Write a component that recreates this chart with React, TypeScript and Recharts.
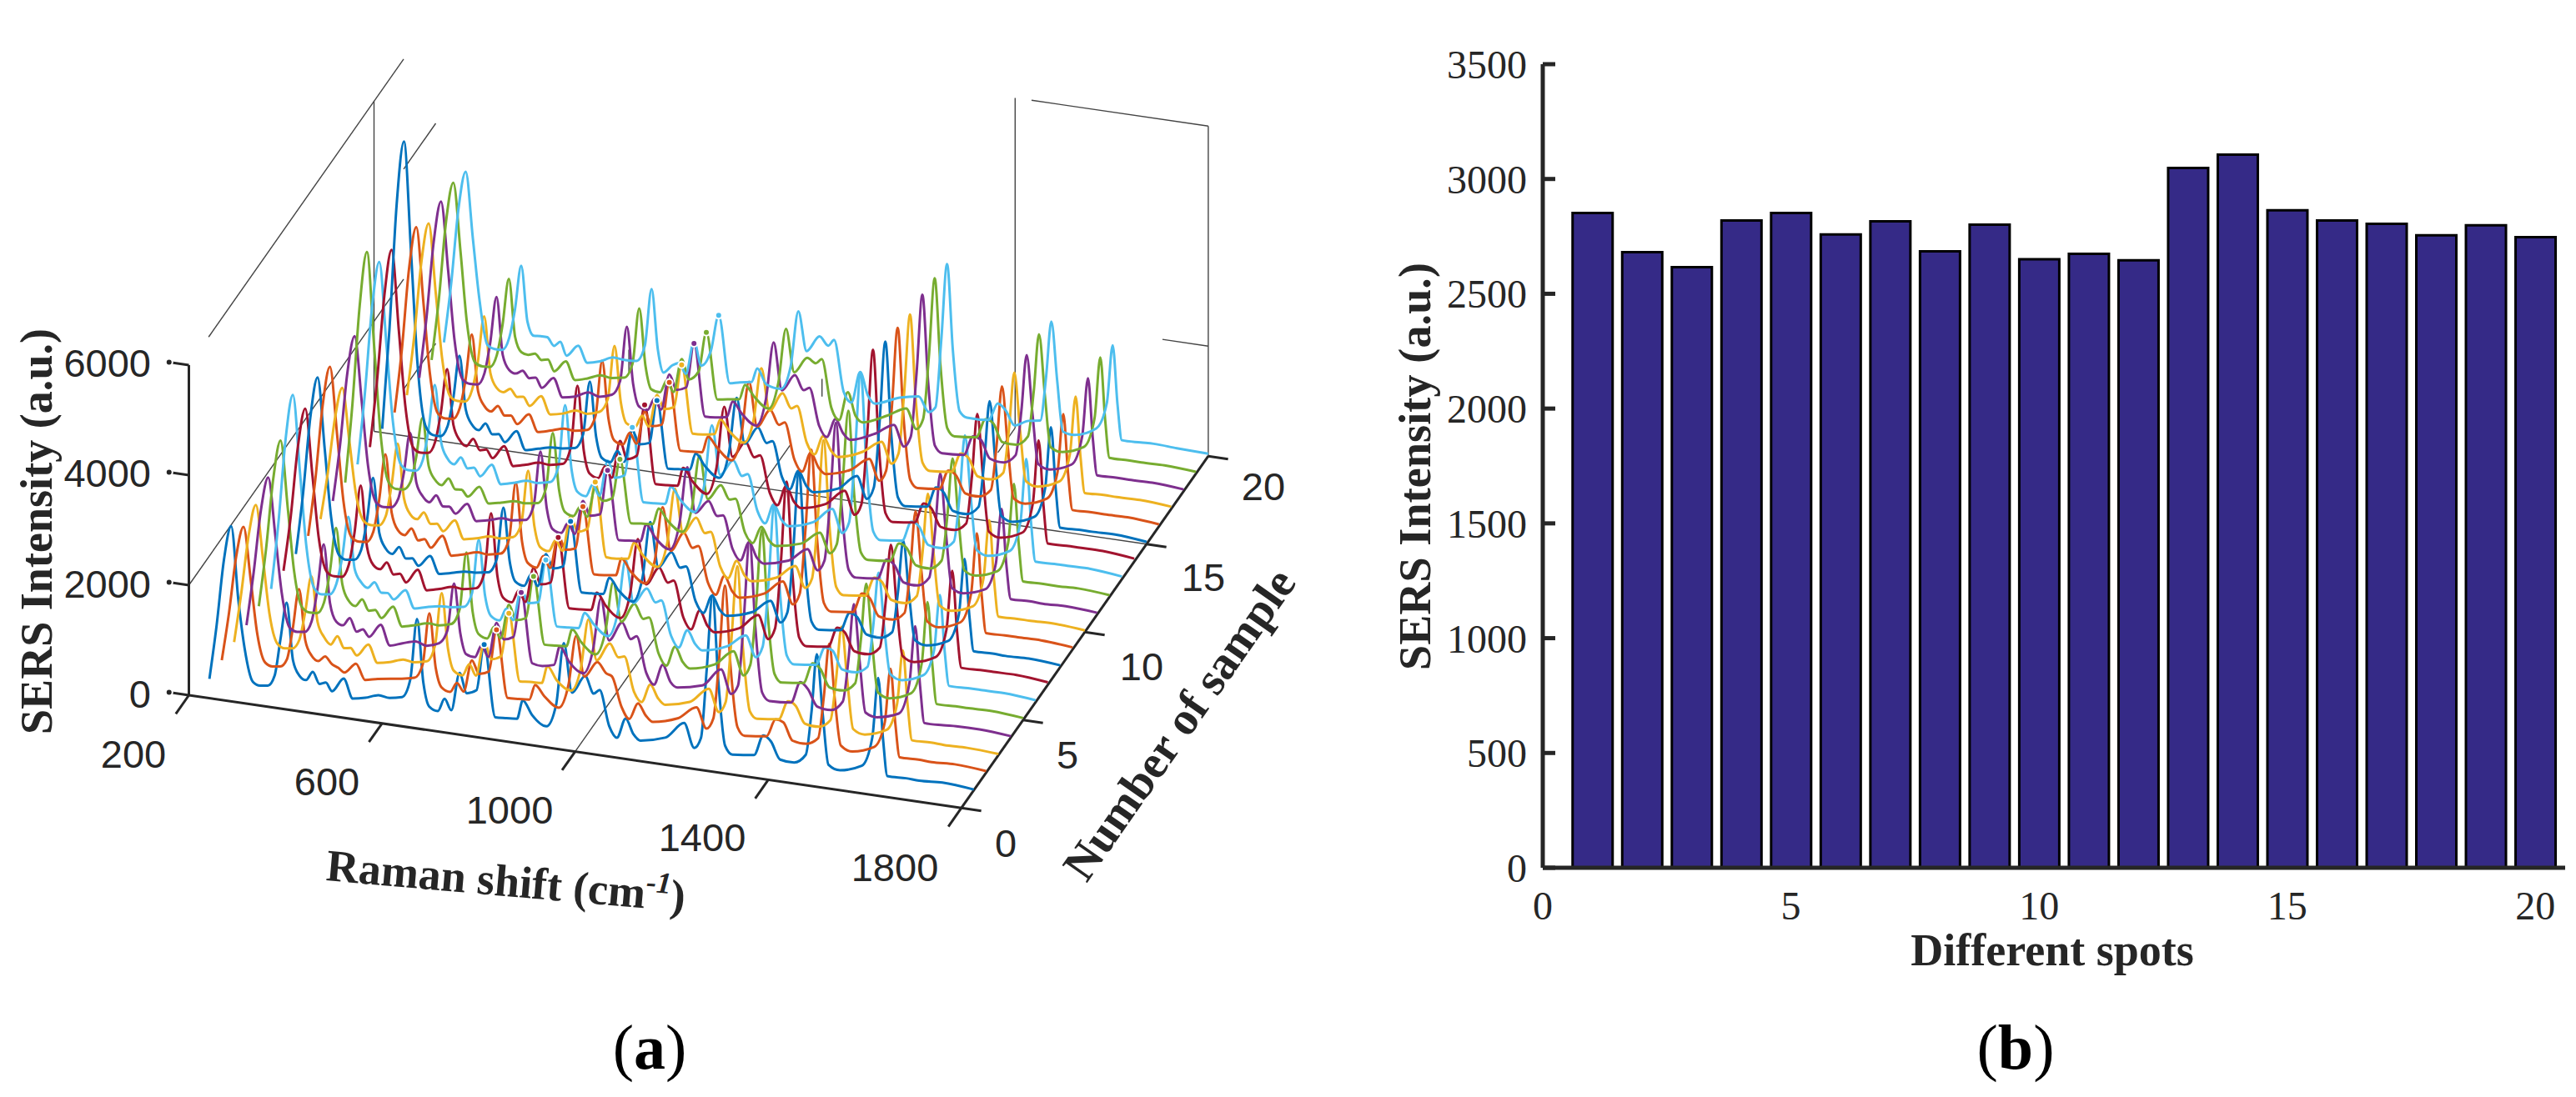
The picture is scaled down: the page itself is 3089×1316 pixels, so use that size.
import { LineChart, Line, BarChart, Bar, XAxis, YAxis } from 'recharts';

// ---- (a) waterfall of SERS spectra ----
const shifts = [
  217, 232, 247, 262, 277, 290, 307, 322, 338, 352,
  364, 377, 390, 403, 417, 431, 445, 458, 471, 495,
  514, 540, 567, 590, 616, 633, 647, 660, 672, 690,
  704, 718, 735, 750, 770, 786, 809, 830, 854, 866,
  885, 915, 935, 951, 968, 995, 1013, 1025, 1045, 1061,
  1079, 1095, 1110, 1161, 1200, 1221, 1235, 1247, 1259, 1271,
  1285, 1300, 1345, 1364, 1380, 1399, 1428, 1452, 1464, 1475,
  1487, 1499, 1523, 1568, 1590, 1602, 1612, 1621, 1660, 1687,
  1735, 1800,
];

const spectrum1 = [
  0, 1000, 2200, 2833, 1500, 640, 60, 10, 30, 230,
  900, 1590, 560, 300, 233, 400, 200, 240, 100, 360,
  20, 70, 150, 130, 180, 520, 1640, 500, 80, 20,
  260, 70, 770, 420, 500, 1350, 60, 70, 90, 440,
  200, 30, 450, 1590, 710, 1045, 750, 830, 200, 10,
  380, 120, 20, 140, 455, 30, 230, 1500, 2860, 1300,
  150, 10, 60, 440, 350, 45, 30, 200, 1000, 2060,
  1000, 80, 10, 150, 700, 1790, 700, 30, 40, 30,
  60, 15,
];
const spectrum2 = [
  20, 900, 1950, 2500, 1550, 620, 90, 40, 60, 210,
  780, 1515, 600, 340, 260, 360, 240, 190, 120, 310,
  40, 90, 130, 160, 210, 470, 1420, 450, 110, 50,
  230, 90, 680, 450, 520, 1300, 90, 100, 120, 400,
  220, 50, 490, 1400, 680, 980, 800, 760, 230, 30,
  340, 140, 40, 170, 420, 60, 260, 1350, 2710, 1220,
  170, 30, 80, 410, 380, 70, 50, 180, 960, 1930,
  900, 110, 30, 170, 640, 1635, 650, 50, 60, 50,
  70, 30,
];
const spectrum3 = [
  30, 950, 2000, 2580, 1600, 650, 110, 50, 70, 240,
  750, 1430, 610, 360, 240, 410, 210, 230, 110, 340,
  30, 80, 160, 140, 190, 500, 1470, 470, 90, 30,
  250, 60, 700, 400, 480, 1280, 70, 90, 100, 420,
  190, 40, 470, 1380, 660, 1000, 770, 800, 190, 20,
  360, 130, 30, 150, 440, 40, 240, 1400, 2740, 1250,
  140, 20, 70, 420, 360, 60, 40, 190, 970, 1920,
  950, 90, 20, 160, 660, 1650, 660, 40, 50, 40,
  50, 20,
];
const spectrum4 = [
  15, 1000, 2150, 2760, 1700, 700, 80, 30, 50, 260,
  860, 1690, 640, 320, 270, 420, 190, 250, 130, 380,
  25, 100, 170, 120, 200, 450, 1325, 430, 70, 40,
  270, 80, 720, 440, 510, 1340, 80, 60, 110, 460,
  210, 35, 500, 1440, 700, 1060, 780, 850, 210, 15,
  400, 110, 25, 130, 470, 50, 220, 1450, 2890, 1320,
  160, 25, 55, 450, 340, 50, 25, 210, 1010, 2010,
  980, 70, 15, 140, 720, 1770, 710, 35, 45, 60,
  65, 25,
];
const spectrum5 = [
  40, 1100, 2400, 3110, 1900, 780, 130, 60, 70, 280,
  840, 1670, 660, 380, 300, 440, 250, 280, 150, 390,
  50, 110, 180, 170, 230, 520, 1570, 500, 120, 60,
  290, 100, 730, 470, 530, 1310, 100, 110, 130, 450,
  240, 60, 510, 1420, 720, 1080, 830, 870, 240, 40,
  410, 150, 50, 190, 480, 70, 280, 1380, 2770, 1240,
  180, 40, 90, 470, 390, 80, 60, 220, 1030, 2060,
  1020, 120, 40, 190, 760, 1890, 760, 60, 70, 70,
  80, 35,
];
const spectrum6 = [
  35, 1250, 2800, 3620, 2200, 900, 150, 70, 90, 300,
  790, 1550, 620, 400, 310, 430, 260, 270, 170, 370,
  60, 120, 170, 180, 220, 490, 1480, 480, 130, 70,
  300, 110, 700, 460, 500, 1290, 110, 120, 140, 430,
  250, 70, 530, 1500, 740, 1040, 810, 860, 250, 50,
  390, 160, 60, 200, 450, 80, 290, 1450, 2900, 1300,
  190, 50, 100, 440, 400, 90, 70, 200, 960, 1940,
  940, 130, 50, 200, 680, 1700, 680, 70, 80, 80,
  85, 40,
];
const spectrum7 = [
  45, 1050, 2350, 3050, 1850, 740, 140, 80, 90, 320,
  920, 1800, 700, 390, 330, 470, 270, 300, 160, 420,
  70, 130, 200, 190, 240, 540, 1640, 520, 140, 80,
  310, 120, 760, 480, 540, 1380, 120, 130, 150, 480,
  260, 80, 550, 1560, 760, 1100, 850, 900, 260, 60,
  430, 170, 70, 210, 500, 90, 300, 1500, 3000, 1350,
  200, 60, 110, 480, 410, 100, 80, 230, 1060, 2130,
  1040, 140, 60, 210, 730, 1820, 730, 80, 90, 90,
  95, 45,
];
const spectrum8 = [
  30, 1150, 2550, 3300, 2000, 800, 120, 60, 80, 270,
  810, 1620, 630, 370, 290, 430, 240, 260, 140, 350,
  50, 100, 160, 170, 210, 470, 1425, 460, 110, 60,
  280, 90, 690, 450, 510, 1350, 90, 100, 120, 430,
  230, 60, 520, 1550, 750, 1060, 800, 840, 230, 40,
  380, 140, 50, 180, 440, 70, 270, 1400, 2880, 1290,
  170, 40, 90, 430, 370, 80, 60, 190, 930, 1880,
  920, 110, 40, 180, 680, 1715, 690, 60, 70, 60,
  75, 35,
];
const spectrum9 = [
  40, 1100, 2450, 3170, 1950, 770, 130, 70, 85, 290,
  880, 1730, 680, 380, 310, 450, 250, 290, 150, 400,
  60, 120, 190, 180, 230, 510, 1560, 500, 130, 70,
  300, 100, 720, 470, 520, 1300, 100, 110, 140, 460,
  250, 70, 520, 1500, 730, 1090, 840, 890, 250, 50,
  420, 160, 60, 200, 470, 80, 290, 1480, 2940, 1330,
  190, 50, 100, 460, 400, 90, 70, 220, 1040, 2100,
  1030, 130, 50, 200, 750, 1860, 740, 70, 80, 80,
  85, 40,
];
const spectrum10 = [
  25, 880, 1900, 2470, 1500, 600, 100, 50, 65, 250,
  820, 1600, 620, 350, 280, 420, 230, 250, 130, 360,
  40, 90, 160, 150, 210, 480, 1455, 460, 100, 50,
  270, 90, 740, 480, 560, 1430, 90, 90, 120, 430,
  220, 50, 510, 1520, 730, 1050, 790, 830, 220, 30,
  370, 130, 40, 170, 430, 60, 250, 1380, 2790, 1260,
  160, 30, 80, 430, 370, 70, 50, 210, 1030, 2100,
  1010, 100, 30, 170, 700, 1780, 700, 50, 60, 60,
  70, 30,
];
const spectrum11 = [
  35, 1080, 2400, 3090, 1900, 760, 120, 60, 75, 240,
  730, 1480, 590, 360, 270, 410, 230, 240, 130, 340,
  50, 100, 170, 160, 200, 490, 1485, 470, 110, 60,
  260, 80, 700, 450, 500, 1320, 80, 100, 120, 440,
  220, 50, 550, 1590, 780, 1030, 780, 810, 220, 35,
  390, 130, 40, 160, 420, 60, 250, 1370, 2790, 1250,
  160, 30, 70, 440, 360, 70, 50, 220, 1060, 2150,
  1050, 100, 30, 160, 650, 1665, 650, 50, 60, 50,
  65, 30,
];
const spectrum12 = [
  50, 1500, 3300, 4300, 2600, 1050, 170, 70, 80, 230,
  700, 1430, 570, 340, 260, 400, 220, 230, 120, 330,
  50, 100, 160, 150, 190, 490, 1500, 480, 100, 50,
  240, 70, 620, 400, 470, 1200, 70, 90, 110, 410,
  210, 50, 510, 1480, 710, 1000, 760, 790, 200, 30,
  350, 120, 40, 150, 400, 50, 230, 1330, 2690, 1200,
  150, 30, 70, 410, 350, 60, 40, 210, 1030, 2100,
  1020, 100, 30, 170, 710, 1800, 710, 50, 60, 55,
  70, 30,
];
const spectrum13 = [
  60, 1350, 2950, 3800, 2300, 950, 170, 90, 100, 310,
  880, 1710, 690, 410, 320, 460, 280, 310, 170, 410,
  80, 140, 210, 200, 250, 560, 1690, 550, 150, 90,
  320, 130, 790, 500, 570, 1460, 130, 140, 160, 490,
  280, 90, 600, 1710, 830, 1130, 870, 920, 280, 70,
  440, 180, 80, 220, 510, 100, 310, 1550, 3070, 1390,
  210, 70, 120, 490, 420, 110, 90, 240, 1090, 2200,
  1090, 150, 70, 220, 780, 1935, 780, 90, 100, 100,
  105, 50,
];
const spectrum14 = [
  55, 1300, 2850, 3700, 2250, 930, 160, 90, 105, 320,
  870, 1680, 680, 420, 330, 480, 290, 320, 180, 430,
  90, 150, 220, 210, 260, 580, 1720, 560, 160, 100,
  330, 140, 830, 520, 610, 1550, 140, 150, 170, 510,
  290, 100, 610, 1730, 840, 1150, 890, 940, 290, 80,
  450, 190, 90, 230, 520, 110, 320, 1600, 3160, 1430,
  220, 80, 130, 500, 430, 120, 100, 250, 1130, 2270,
  1120, 160, 80, 230, 790, 1950, 790, 100, 110, 110,
  110, 55,
];
const spectrum15 = [
  70, 1900, 4200, 5350, 3300, 1350, 230, 90, 90, 280,
  800, 1600, 640, 380, 300, 440, 260, 280, 150, 380,
  60, 120, 180, 190, 230, 500, 1477, 490, 120, 70,
  290, 110, 700, 470, 520, 1310, 100, 120, 140, 450,
  250, 70, 550, 1570, 760, 1090, 830, 880, 250, 50,
  410, 160, 60, 190, 470, 80, 300, 1500, 2990, 1350,
  190, 50, 100, 470, 400, 90, 70, 230, 1090, 2180,
  1080, 130, 50, 200, 750, 1870, 750, 70, 80, 80,
  90, 40,
];
const spectrum16 = [
  45, 1200, 2700, 3470, 2100, 860, 140, 70, 85, 300,
  830, 1670, 650, 400, 320, 440, 280, 300, 160, 370,
  70, 130, 200, 190, 240, 510, 1535, 500, 120, 70,
  300, 120, 720, 480, 530, 1320, 110, 120, 140, 440,
  260, 70, 540, 1545, 750, 1090, 840, 900, 250, 50,
  420, 170, 70, 210, 460, 90, 290, 1470, 2920, 1320,
  190, 60, 100, 460, 390, 90, 70, 220, 1060, 2130,
  1050, 130, 60, 210, 720, 1790, 710, 70, 80, 75,
  85, 40,
];
const spectrum17 = [
  40, 1120, 2500, 3220, 1950, 800, 130, 70, 80, 310,
  840, 1680, 660, 410, 350, 430, 300, 320, 170, 380,
  70, 120, 210, 180, 250, 500, 1485, 480, 110, 70,
  290, 110, 710, 470, 530, 1320, 100, 110, 150, 430,
  240, 70, 510, 1470, 720, 1070, 820, 880, 240, 45,
  400, 160, 60, 220, 450, 80, 280, 1420, 2840, 1280,
  180, 50, 90, 450, 390, 80, 60, 210, 1030, 2060,
  1020, 120, 50, 200, 720, 1790, 710, 60, 75, 70,
  80, 40,
];
const spectrum18 = [
  35, 1150, 2550, 3300, 2050, 820, 120, 60, 70, 290,
  860, 1710, 670, 420, 370, 440, 320, 350, 180, 390,
  60, 110, 220, 170, 240, 510, 1515, 490, 100, 60,
  280, 100, 760, 500, 570, 1390, 90, 100, 140, 440,
  240, 60, 570, 1620, 770, 1080, 830, 890, 230, 40,
  390, 150, 50, 230, 440, 70, 270, 1440, 2880, 1300,
  170, 50, 80, 440, 400, 80, 50, 210, 1030, 2060,
  1010, 110, 40, 190, 730, 1800, 720, 60, 70, 65,
  75, 35,
];
const spectrum19 = [
  40, 1160, 2600, 3320, 2080, 830, 110, 60, 70, 300,
  870, 1720, 680, 420, 390, 430, 330, 360, 160, 370,
  55, 120, 210, 190, 230, 500, 1530, 500, 90, 60,
  290, 100, 720, 370, 540, 1270, 80, 110, 140, 420,
  230, 50, 540, 1545, 780, 1075, 1000, 1090, 230, 30,
  560, 150, 50, 240, 420, 70, 270, 1430, 2860, 1280,
  170, 40, 80, 430, 380, 60, 50, 230, 1060, 2120,
  1040, 100, 40, 190, 740, 1860, 740, 60, 65, 60,
  70, 35,
];
const spectrum20 = [
  40, 1130, 2500, 3200, 2000, 950, 110, 55, 60, 290,
  820, 1640, 640, 400, 410, 410, 270, 360, 125, 335,
  50, 110, 215, 200, 215, 510, 1560, 480, 75, 230,
  290, 110, 725, 300, 600, 1260, 55, 100, 135, 400,
  130, 90, 520, 1545, 845, 1145, 1000, 1120, 200, 30,
  605, 200, 70, 245, 318, 60, 165, 1400, 2800, 1250,
  157, 60, 75, 400, 300, 45, 165, 200, 1000, 2030,
  980, 60, 30, 207, 700, 1760, 700, 60, 70, 80,
  60, 45,
];

const spectra = [
  spectrum1, spectrum2, spectrum3, spectrum4, spectrum5,
  spectrum6, spectrum7, spectrum8, spectrum9, spectrum10,
  spectrum11, spectrum12, spectrum13, spectrum14, spectrum15,
  spectrum16, spectrum17, spectrum18, spectrum19, spectrum20,
];

const COLORS = ['#0072BD', '#D95319', '#EDB120', '#7E2F8E', '#77AC30', '#4DBEEE', '#A2142F'];

const shiftTicks = [200, 600, 1000, 1400, 1800];
const sampleTicks = [0, 5, 10, 15, 20];
const intensityTicks = [0, 2000, 4000, 6000];

// leftover box lines [shift, sample, intensity] -> [shift, sample, intensity]
const gridLines = [
  [[200, 1.6, 6000], [200, 17.4, 6000]],
  [[200, 17.4, 4000], [200, 20, 4000]],
  [[200, 0, 2000], [200, 17.4, 2000]],
  [[200, 17.4, 0], [200, 20, 0]],
  [[200, 15, 0], [200, 15, 6000]],
  [[1434, 20, 6000], [1800, 20, 6000]],
  [[1400, 20, 0], [1400, 20, 6000]],
  [[1800, 20, 0], [1800, 20, 6000]],
  [[1705, 20, 2000], [1800, 20, 2000]],
  [[200, 15, 0], [1800, 15, 0]],
  [[1000, 0, 0], [1000, 17.4, 0]],
  [[1400, 18.6, 0], [1400, 20, 0]],
  [[600, 20, 0], [600, 20, 400]],
  [[1000, 20, 60], [1000, 20, 380]],
];

// ---- (b) bars ----
const spots = [1, 2, 3, 4, 5, 6, 7, 8, 9, 10, 11, 12, 13, 14, 15, 16, 17, 18, 19, 20];
const spotIntensity = [
  2852, 2681, 2616, 2819, 2852, 2758, 2816, 2685, 2801, 2650,
  2674, 2646, 3048, 3106, 2864, 2819, 2805, 2755, 2798, 2747,
];
const spotTicks = [0, 5, 10, 15, 20];
const barTicks = [0, 500, 1000, 1500, 2000, 2500, 3000, 3500];

const INK = '#262626';
const SANS = '"Liberation Sans", Arial, sans-serif';
const SERIF = '"Liberation Serif", "Times New Roman", serif';

// the MATLAB 3D view as seen in the picture
const project = (shift: number, sample: number, z: number) => ({
  px: 226.5 + (shift - 200) * 0.579 + sample * 14.8,
  py: 834 + (shift - 200) * 0.0845 - sample * 21.1 - z * 0.066,
});

const barData = spots.map((spot, i) => ({ spot, value: spotIntensity[i] }));

const axisLine = (key: string, from: number[], to: number[], width = 3) => (
  <Line
    key={key}
    data={[project(from[0], from[1], from[2]), project(to[0], to[1], to[2])]}
    dataKey="py"
    type="linear"
    stroke={INK}
    strokeWidth={width}
    dot={false}
    isAnimationActive={false}
  />
);

const tickLabel = (x: number, y: number, value: number) => (
  <text key={`${x}-${y}`} x={x} y={y} textAnchor="middle" dominantBaseline="central" fontFamily={SANS} fontSize={47} fill={INK}>
    {value}
  </text>
);

const shiftLabelPos = [[160, 904], [392, 937], [611, 971], [842, 1004], [1073, 1040]];
const sampleLabelPos = [[1206, 1011], [1280, 905], [1369, 799], [1443, 692], [1515, 583]];
const intensityLabelY = [832, 700, 567, 435];

const Waterfall = () => (
  <LineChart width={1660} height={1316} margin={{ top: 0, right: 0, bottom: 0, left: 0 }}>
    <XAxis type="number" dataKey="px" domain={[0, 1660]} hide allowDataOverflow />
    <YAxis type="number" domain={[0, 1316]} reversed hide allowDataOverflow />
    {gridLines.map((g, i) => (
      <Line
        key={`grid-${i}`}
        data={g.map(p => project(p[0], p[1], p[2]))}
        dataKey="py"
        type="linear"
        stroke="#444"
        strokeWidth={1.4}
        dot={false}
        isAnimationActive={false}
      />
    ))}
    {axisLine('z-axis', [200, 0, 0], [200, 0, 6000])}
    {axisLine('x-axis', [200, 0, 0], [1800, 0, 0])}
    {axisLine('s-axis', [1800, 0, 0], [1800, 20, 0])}
    {intensityTicks.map(v => axisLine(`zt-${v}`, [200, 0, v], [159, 0, v]))}
    {shiftTicks.map(v => axisLine(`xt-${v}`, [v, 0, 0], [v, -1.06, 0]))}
    {sampleTicks.map(v => axisLine(`st-${v}`, [1800, v, 0], [1841, v, 0]))}
    {spectra.map((values, i) => (
      <Line
        key={`sample-${i + 1}`}
        data={values.map((z, j) => project(shifts[j], i + 1, z))}
        dataKey="py"
        type="monotone"
        stroke={COLORS[i % COLORS.length]}
        strokeWidth={3}
        dot={false}
        isAnimationActive={false}
      />
    ))}
    {intensityTicks.map((v, i) => (
      <text key={v} x={181} y={intensityLabelY[i]} textAnchor="end" dominantBaseline="central" fontFamily={SANS} fontSize={47} fill={INK}>
        {v}
      </text>
    ))}
    {shiftTicks.map((v, i) => tickLabel(shiftLabelPos[i][0], shiftLabelPos[i][1], v))}
    {sampleTicks.map((v, i) => tickLabel(sampleLabelPos[i][0], sampleLabelPos[i][1], v))}
    <text
      transform="translate(62 881) rotate(-90)"
      fontFamily={SERIF}
      fontWeight="bold"
      fontSize={54}
      fill={INK}
      textLength={487}
    >
      SERS Intensity (a.u.)
    </text>
    <text transform="translate(390 1056) rotate(5)" fontFamily={SERIF} fontWeight="bold" fontSize={54} fill={INK}>
      Raman shift (cm
      <tspan fontSize={36} fontStyle="italic" dy={-20}>-1</tspan>
      <tspan dy={20}>)</tspan>
    </text>
    <text transform="translate(1303 1060) rotate(-55)" fontFamily={SERIF} fontWeight="bold" fontSize={56} fill={INK}>
      Number of sample
    </text>
    <text x={779} y={1282} textAnchor="middle" fontFamily={SERIF} fontSize={76} fill="#000">
      (<tspan fontWeight="bold">a</tspan>)
    </text>
  </LineChart>
);

const SpotBars = () => (
  <BarChart width={1429} height={1316} data={barData} margin={{ top: 77, right: 13, bottom: 0, left: 0 }}>
    <XAxis
      type="number"
      dataKey="spot"
      domain={[0, 20.6]}
      ticks={spotTicks}
      height={275}
      tickSize={0}
      tickMargin={28}
      tickLine={false}
      allowDataOverflow
      axisLine={{ stroke: INK, strokeWidth: 5 }}
      tick={{ fontFamily: SERIF, fontSize: 48, fill: INK }}
    />
    <YAxis
      type="number"
      domain={[0, 3500]}
      ticks={barTicks}
      width={190}
      tickSize={-15}
      tickMargin={34}
      interval={0}
      axisLine={{ stroke: INK, strokeWidth: 5 }}
      tickLine={{ stroke: INK, strokeWidth: 5 }}
      tick={{ fontFamily: SERIF, fontSize: 48, fill: INK }}
    />
    <Bar dataKey="value" fill="#352A87" stroke="#000" strokeWidth={3} barSize={48} isAnimationActive={false} />
    <text
      transform="translate(55 804) rotate(-90)"
      fontFamily={SERIF}
      fontWeight="bold"
      fontSize={54}
      fill={INK}
      textLength={489}
    >
      SERS Intensity (a.u.)
    </text>
    <text x={801} y={1158} textAnchor="middle" fontFamily={SERIF} fontWeight="bold" fontSize={54} fill={INK}>
      Different spots
    </text>
    <text x={757} y={1282} textAnchor="middle" fontFamily={SERIF} fontSize={76} fill="#000">
      (<tspan fontWeight="bold">b</tspan>)
    </text>
  </BarChart>
);

export default function App() {
  return (
    <div style={{ position: 'absolute', left: 0, top: 0, width: 3089, height: 1316, background: '#fff' }}>
      <div style={{ position: 'absolute', left: 0, top: 0 }}>
        <Waterfall />
      </div>
      <div style={{ position: 'absolute', left: 1660, top: 0 }}>
        <SpotBars />
      </div>
    </div>
  );
}
